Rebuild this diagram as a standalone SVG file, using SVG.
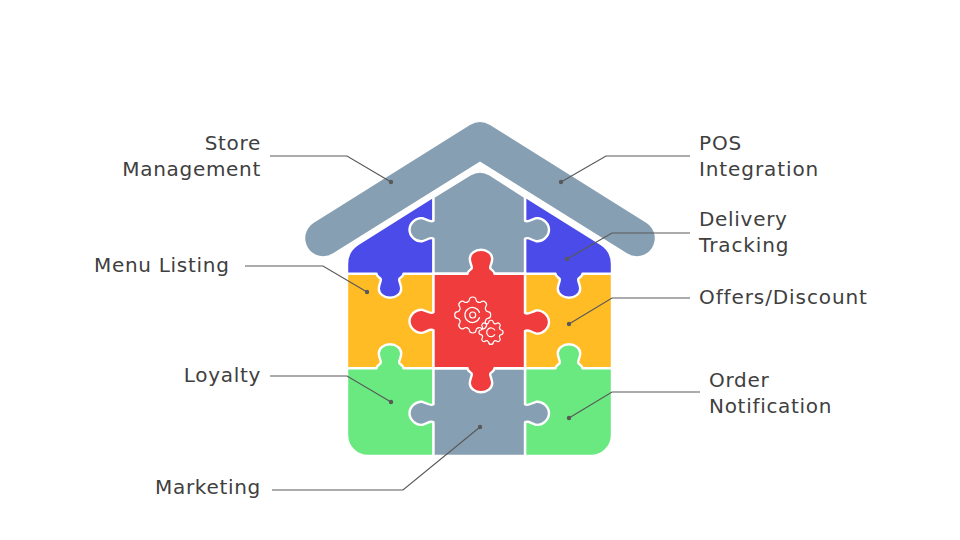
<svg xmlns="http://www.w3.org/2000/svg" width="960" height="540" viewBox="0 0 960 540">
<style>
.p{stroke:#fff;stroke-width:2.4;stroke-linejoin:round}
.grey{fill:#879fb3}.blue{fill:#4a4be8}.yellow{fill:#ffbc25}.green{fill:#69e980}.red{fill:#f03c3c}
.c{fill:none;stroke:#595959;stroke-width:1.2}
.d{fill:#595959}
.g{fill:none;stroke:#fff;stroke-linecap:round;stroke-linejoin:round}
text{font-family:"DejaVu Sans",Verdana,sans-serif;font-size:20px;letter-spacing:.7px;fill:#404040}
.e{text-anchor:end}
.w{letter-spacing:.9px}
</style>
<defs>
<path id="tooth" d="M-5.36 -12.93Q-3.6 -13.4 -3.4 -15Q-3.2 -18 0 -18Q3.2 -18 3.4 -15Q3.6 -13.4 5.36 -12.93"/>
<g id="gear">
<use href="#tooth"/>
<use href="#tooth" transform="rotate(45)"/>
<use href="#tooth" transform="rotate(90)"/>
<use href="#tooth" transform="rotate(135)"/>
<use href="#tooth" transform="rotate(180)"/>
<use href="#tooth" transform="rotate(225)"/>
<use href="#tooth" transform="rotate(270)"/>
<use href="#tooth" transform="rotate(315)"/>
</g>
</defs>
<g id="yellow-left"><path class="p yellow" d="M347 273.7H433.5V368.3H347Z"/></g>
<g id="yellow-right"><path class="p yellow" d="M525 273.7H612V368.3H525Z"/></g>
<g id="blue-left"><path class="p blue" d="M433.5 196.5V273.7H403.5c0 2.5 -2.5 3.5 -4 5c-1.5 1.5 1.7 5 1.7 10c0 5 -5.2 9 -11.2 9c-6 0 -11.2 -4 -11.2 -9c0 -5 3.2 -8.5 1.7 -10c-1.5 -1.5 -4 -2.5 -4 -5H347V264Q347 251 358 244Z"/></g>
<g id="blue-right"><path class="p blue" d="M525 196.5L601 244Q612 251 612 264V273.7H582.5c0 2.5 -2.5 3.5 -4 5c-1.5 1.5 1.7 5 1.7 10c0 5 -5.2 9 -11.2 9c-6 0 -11.2 -4 -11.2 -9c0 -5 3.2 -8.5 1.7 -10c-1.5 -1.5 -4 -2.5 -4 -5H525Z"/></g>
<g id="green-left"><path class="p green" d="M347 368.3H376.5c0 -2.5 2.5 -3.5 4 -5c1.5 -1.5 -1.7 -5 -1.7 -10c0 -5 5.2 -9 11.2 -9c6 0 11.2 4 11.2 9c0 5 -3.2 8.5 -1.7 10c1.5 1.5 4 2.5 4 5H433.5V456H368A21 21 0 0 1 347 435Z"/></g>
<g id="green-right"><path class="p green" d="M525 368.3H555.5c0 -2.5 2.5 -3.5 4 -5c1.5 -1.5 -1.7 -5 -1.7 -10c0 -5 5.2 -9 11.2 -9c6 0 11.2 4 11.2 9c0 5 -3.2 8.5 -1.7 10c1.5 1.5 4 2.5 4 5H612V435A21 21 0 0 1 591 456H525Z"/></g>
<g id="grey-top"><path class="p grey" d="M433.5 197L470 174.5Q480 168.5 490 174.5L525 197V220.7c3 2 6 -1 11 -2.5c7 -1 13 5.5 13 11.5c0 6 -6 12.5 -13 11.5c-5 -1.5 -8 -4.5 -11 -2.5V273.7H433.5V238.7c-3 -2 -6 1 -11 2.5c-7 1 -13 -5.5 -13 -11.5c0 -6 6 -12.5 13 -11.5c5 1.5 8 4.5 11 2.5Z"/></g>
<g id="grey-bottom"><path class="p grey" d="M433.5 368.3H525V404.3c3 2 6 -1 11 -2.5c7 -1 13 5.5 13 11.5c0 6 -6 12.5 -13 11.5c-5 -1.5 -8 -4.5 -11 -2.5V456H433.5V422.3c-3 -2 -6 1 -11 2.5c-7 1 -13 -5.5 -13 -11.5c0 -6 6 -12.5 13 -11.5c5 1.5 8 4.5 11 2.5Z"/></g>
<g id="red-center">
<path class="p red" d="M433.5 273.7H467.5c0 -2.5 2.5 -3.5 4 -5c1.5 -1.5 -1.7 -5 -1.7 -10c0 -5 5.2 -9 11.2 -9c6 0 11.2 4 11.2 9c0 5 -3.2 8.5 -1.7 10c1.5 1.5 4 2.5 4 5H525V313c3 2 6 -1 11 -2.5c7 -1 13 5.5 13 11.5c0 6 -6 12.5 -13 11.5c-5 -1.5 -8 -4.5 -11 -2.5V368.3H494.5c0 2.5 -2.5 3.5 -4 5c-1.5 1.5 1.7 5 1.7 10c0 5 -5.2 9 -11.2 9c-6 0 -11.2 -4 -11.2 -9c0 -5 3.2 -8.5 1.7 -10c-1.5 -1.5 -4 -2.5 -4 -5H433.5V330.3c-3 -2 -6 1 -11 2.5c-7 1 -13 -5.5 -13 -11.5c0 -6 6 -12.5 13 -11.5c5 1.5 8 4.5 11 2.5Z"/>
<g class="g" stroke-width="1.2">
<use href="#gear" transform="translate(472.7 315)"/>
<circle cx="472.7" cy="315" r="3"/>
<path d="M479.5 312.5A7.5 7.5 0 1 0 479.5 317.5"/>
</g>
<g class="g" stroke-width="1.8" transform="translate(491 332.3) scale(.67)">
<use href="#gear"/>
<path d="M5.5 -3.5A6.5 6.5 0 1 0 5.5 3.5"/>
</g>
</g>
<g id="roof"><path class="grey" d="M480 161.5L333 253.3A18 18 0 0 1 313.5 223L470 125Q480 119 490 125L646.5 223A18 18 0 0 1 627 253.3Z"/></g>
<g id="connectors">
<path class="c" d="M270 156H347L391 182"/><circle class="d" cx="391" cy="182" r="2.2"/>
<path class="c" d="M690 156H606L561 182"/><circle class="d" cx="561" cy="182" r="2.2"/>
<path class="c" d="M690 233H612L567 259"/><circle class="d" cx="567" cy="259" r="2.2"/>
<path class="c" d="M245 266H323L367 292"/><circle class="d" cx="367" cy="292" r="2.2"/>
<path class="c" d="M690 298H612L569 324"/><circle class="d" cx="569" cy="324" r="2.2"/>
<path class="c" d="M270 376H347L391 402"/><circle class="d" cx="391" cy="402" r="2.2"/>
<path class="c" d="M700 392H612L569 418"/><circle class="d" cx="569" cy="418" r="2.2"/>
<path class="c" d="M272 490H403L480 427"/><circle class="d" cx="480" cy="427" r="2.2"/>
</g>
<g id="labels">
<text class="e" x="261" y="150">Store</text>
<text class="e" x="261" y="176">Management</text>
<text class="w" x="699" y="150">POS</text>
<text class="w" x="699" y="176">Integration</text>
<text x="699" y="226">Delivery</text>
<text class="w" x="699" y="252">Tracking</text>
<text x="94" y="272">Menu Listing</text>
<text class="w" x="699" y="304">Offers/Discount</text>
<text class="e" x="261" y="382">Loyalty</text>
<text x="709" y="387">Order</text>
<text x="709" y="413">Notification</text>
<text class="e" x="261" y="494">Marketing</text>
</g>
</svg>
